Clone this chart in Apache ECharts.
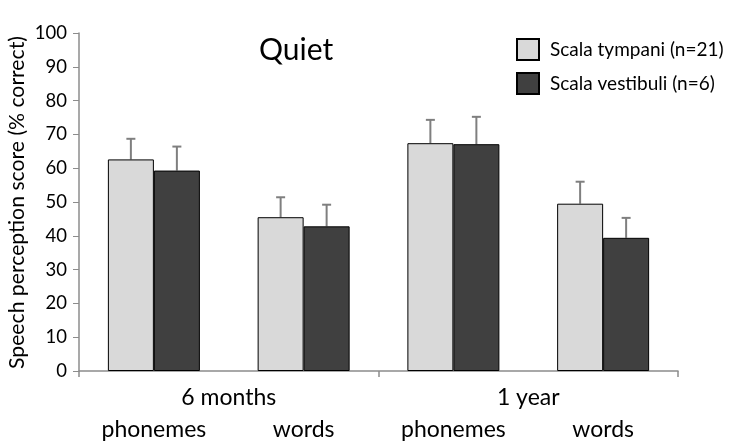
<!DOCTYPE html>
<html><head><meta charset="utf-8">
<script src="https://cdn.jsdelivr.net/npm/echarts@6/dist/echarts.min.js"></script>
<style>html,body{margin:0;padding:0;background:#fff}#c{width:744px;height:445px}</style>
</head><body><div id="c"></div>
<script>
const categories = ['phonemes', 'words', 'phonemes', 'words'];
const periods = ['6 months', '1 year'];
const seriesNames = ['Scala tympani (n=21)', 'Scala vestibuli (n=6)'];
const tympaniMean = [62.6, 45.5, 67.4, 49.5];
const tympaniErr = [6.1, 5.9, 6.9, 6.5];
const vestibuliMean = [59.3, 42.8, 67.1, 39.4];
const vestibuliErr = [7.1, 6.4, 8.1, 5.9];
const yTicks = {min: 0, max: 100, interval: 10};

const FONT = 'Lato';
const BAR_W = 46;
const chart = echarts.init(document.getElementById('c'));

function errSeries(means, errs, offset) {
  return {
    type: 'custom', xAxisIndex: 0, yAxisIndex: 0, silent: true, z: 1,
    data: means.map((m, i) => [i, m, errs[i]]),
    encode: {x: 0, y: 1},
    renderItem: function (params, api) {
      const base = api.coord([api.value(0), api.value(1)]);
      const top = api.coord([api.value(0), api.value(1) + api.value(2)]);
      const x = base[0] + offset;
      const st = {stroke: '#7f7f7f', lineWidth: 2};
      return {type: 'group', children: [
        {type: 'line', shape: {x1: x, y1: base[1], x2: x, y2: top[1]}, style: st},
        {type: 'line', shape: {x1: x - 4.5, y1: top[1], x2: x + 4.5, y2: top[1]}, style: st}
      ]};
    }
  };
}

chart.setOption({
  animation: false,
  textStyle: {fontFamily: FONT, color: '#000'},
  title: {text: 'Quiet', left: 254, top: 30, textStyle: {fontFamily: FONT, fontSize: 30, fontWeight: 'normal', color: '#000'}},
  legend: {
    orient: 'vertical', left: 516, top: 38, padding: 0, itemWidth: 22, itemHeight: 21, itemGap: 11,
    icon: 'rect',
    textStyle: {fontFamily: FONT, fontSize: 19, color: '#000', padding: [0, 0, 0, 6]},
    data: seriesNames
  },
  grid: {left: 79, right: 66, top: 33, bottom: 74},
  xAxis: [{
    type: 'category', data: categories,
    axisLine: {lineStyle: {color: '#8c8c8c', width: 1.5}},
    axisTick: {show: false},
    axisLabel: {margin: 47, fontFamily: FONT, fontSize: 23, color: '#000'}
  }, {
    type: 'category', data: periods, position: 'bottom',
    axisLine: {show: false},
    axisTick: {show: true, length: 6, lineStyle: {color: '#8c8c8c', width: 1.5}},
    axisLabel: {margin: 15, fontFamily: FONT, fontSize: 23, color: '#000'}
  }],
  yAxis: {
    type: 'value', min: yTicks.min, max: yTicks.max, interval: yTicks.interval,
    splitLine: {show: false},
    axisLine: {show: true, lineStyle: {color: '#8c8c8c', width: 1.5}},
    axisTick: {show: true, length: 6, lineStyle: {color: '#8c8c8c'}},
    axisLabel: {margin: 12, fontFamily: FONT, fontSize: 18.5, color: '#000'}
  },
  graphic: [{
    type: 'text', rotation: Math.PI / 2,
    style: {text: 'Speech perception score (% correct)', fontFamily: FONT, fontSize: 21.2, fill: '#000'},
    x: 7, y: 369
  }],
  series: [
    {name: seriesNames[0], type: 'bar', data: tympaniMean, barWidth: BAR_W, barGap: '0%', z: 2,
     itemStyle: {color: '#d9d9d9', borderColor: '#000', borderWidth: 1}},
    {name: seriesNames[1], type: 'bar', data: vestibuliMean, barWidth: BAR_W, barGap: '0%', z: 2,
     itemStyle: {color: '#404040', borderColor: '#000', borderWidth: 1}},
    errSeries(tympaniMean, tympaniErr, -BAR_W / 2),
    errSeries(vestibuliMean, vestibuliErr, BAR_W / 2)
  ]
});
</script></body></html>
